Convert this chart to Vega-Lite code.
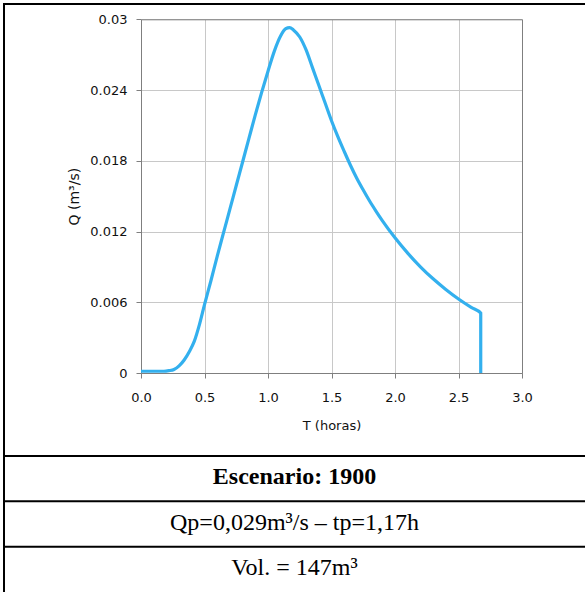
{
  "$schema": "https://vega.github.io/schema/vega-lite/v6.json",
  "width": 581,
  "height": 588,
  "autosize": {"type": "none"},
  "padding": {"left": 4, "top": 4, "right": 0, "bottom": 0},
  "background": "white",
  "config": {
    "view": {"stroke": "black", "strokeWidth": 2, "strokeDash": [581, 1169, 588]},
    "axis": {
      "labelFont": "DejaVu Sans",
      "titleFont": "DejaVu Sans",
      "labelFontSize": 13,
      "titleFontSize": 13,
      "titleFontWeight": "normal",
      "labelColor": "#111111",
      "titleColor": "#111111",
      "domainColor": "#7f7f7f",
      "tickColor": "#7f7f7f",
      "gridColor": "#c8c8c8",
      "gridOpacity": 1,
      "tickSize": 5,
      "labelFlush": false
    }
  },
  "datasets": {
    "hydro": [
      {"t": 0, "q": 0.00015},
      {"t": 0.18, "q": 0.00015},
      {"t": 0.22, "q": 0.0002},
      {"t": 0.26, "q": 0.0003},
      {"t": 0.3, "q": 0.0006},
      {"t": 0.34, "q": 0.0011},
      {"t": 0.38, "q": 0.0018},
      {"t": 0.42, "q": 0.0027},
      {"t": 0.46, "q": 0.0041},
      {"t": 0.5, "q": 0.0058},
      {"t": 0.55, "q": 0.0078},
      {"t": 0.6, "q": 0.0099},
      {"t": 0.65, "q": 0.0119},
      {"t": 0.7, "q": 0.0139},
      {"t": 0.75, "q": 0.0159},
      {"t": 0.8, "q": 0.0179},
      {"t": 0.85, "q": 0.0199},
      {"t": 0.9, "q": 0.0219},
      {"t": 0.95, "q": 0.0238},
      {"t": 1.0, "q": 0.0256},
      {"t": 1.05, "q": 0.0273},
      {"t": 1.1, "q": 0.0286},
      {"t": 1.14, "q": 0.0292},
      {"t": 1.17, "q": 0.0293},
      {"t": 1.2, "q": 0.0291},
      {"t": 1.25, "q": 0.0285},
      {"t": 1.3, "q": 0.0274},
      {"t": 1.35, "q": 0.0259},
      {"t": 1.4, "q": 0.0244},
      {"t": 1.45, "q": 0.0229},
      {"t": 1.5, "q": 0.0214},
      {"t": 1.55, "q": 0.02005},
      {"t": 1.6, "q": 0.0188},
      {"t": 1.65, "q": 0.0176},
      {"t": 1.7, "q": 0.0165},
      {"t": 1.75, "q": 0.01552},
      {"t": 1.8, "q": 0.01459},
      {"t": 1.85, "q": 0.01374},
      {"t": 1.9, "q": 0.01293},
      {"t": 2.0, "q": 0.01147},
      {"t": 2.1, "q": 0.01017},
      {"t": 2.2, "q": 0.00901},
      {"t": 2.3, "q": 0.00799},
      {"t": 2.4, "q": 0.00709},
      {"t": 2.5, "q": 0.00628},
      {"t": 2.6, "q": 0.00557},
      {"t": 2.675, "q": 0.00509},
      {"t": 2.675, "q": 0}
    ],
    "rows": [
      {"row": 1, "label": "Escenario: 1900", "bold": true},
      {"row": 2, "label": "Qp=0,029m³/s – tp=1,17h", "bold": false},
      {"row": 3, "label": "Vol. = 147m³", "bold": false}
    ]
  },
  "layer": [
    {
      "data": {"name": "hydro"},
      "mark": {"type": "line", "color": "#33b0ee", "strokeWidth": 3.2, "interpolate": "monotone"},
      "encoding": {
        "x": {
          "field": "t", "type": "quantitative",
          "scale": {"domain": [0, 3], "range": [137, 518]},
          "axis": {
            "orient": "bottom", "offset": -219, "grid": false,
            "values": [0, 0.5, 1, 1.5, 2, 2.5, 3], "format": ".1f",
            "title": "T (horas)", "labelPadding": 13, "titlePadding": 15
          }
        },
        "y": {
          "field": "q", "type": "quantitative",
          "scale": {"domain": [0, 0.03], "range": [369, 15.3]},
          "axis": {
            "orient": "left", "offset": -137, "grid": true,
            "values": [0, 0.006, 0.012, 0.018, 0.024, 0.03], "format": "~g",
            "title": "Q (m³/s)", "titleFontSize": 14, "labelPadding": 9, "titlePadding": 8
          }
        },
        "order": {"value": null}
      }
    },
    {
      "data": {"name": "hydro"},
      "mark": {"type": "line", "opacity": 0},
      "encoding": {
        "x": {
          "field": "t", "type": "quantitative",
          "scale": {"domain": [0, 3], "range": [137, 518]},
          "axis": {
            "orient": "top", "offset": -15.3, "grid": true, "labels": false,
            "ticks": false, "domain": true, "title": null,
            "values": [0, 0.5, 1, 1.5, 2, 2.5, 3]
          }
        },
        "y": {
          "field": "q", "type": "quantitative",
          "scale": {"domain": [0, 0.03], "range": [369, 15.3]},
          "axis": {
            "orient": "right", "offset": -63, "grid": false, "labels": false,
            "ticks": false, "domain": true, "title": null
          }
        }
      }
    },
    {
      "data": {"name": "rows"},
      "layer": [
        {
          "mark": {"type": "rule", "color": "black", "strokeWidth": 2},
          "encoding": {
            "y": {
              "field": "row", "type": "ordinal", "bandPosition": 0,
              "scale": {"type": "band", "domain": [1, 2, 3], "range": [452, 588], "paddingInner": 0, "paddingOuter": 0},
              "axis": null
            }
          }
        },
        {
          "transform": [{"filter": "datum.bold"}],
          "mark": {"type": "text", "font": "Liberation Serif", "fontSize": 24, "fontWeight": "bold", "baseline": "middle", "align": "center", "color": "black", "dy": -2},
          "encoding": {
            "y": {
              "field": "row", "type": "ordinal",
              "scale": {"type": "band", "domain": [1, 2, 3], "range": [452, 588], "paddingInner": 0, "paddingOuter": 0},
              "axis": null
            },
            "text": {"field": "label", "type": "nominal"}
          }
        },
        {
          "transform": [{"filter": "!datum.bold"}],
          "mark": {"type": "text", "font": "Liberation Serif", "fontSize": 24, "baseline": "middle", "align": "center", "color": "black", "dy": -1},
          "encoding": {
            "y": {
              "field": "row", "type": "ordinal",
              "scale": {"type": "band", "domain": [1, 2, 3], "range": [452, 588], "paddingInner": 0, "paddingOuter": 0},
              "axis": null
            },
            "text": {"field": "label", "type": "nominal"}
          }
        }
      ]
    }
  ],
  "resolve": {
    "scale": {"y": "independent"},
    "axis": {"x": "independent", "y": "independent"}
  }
}
